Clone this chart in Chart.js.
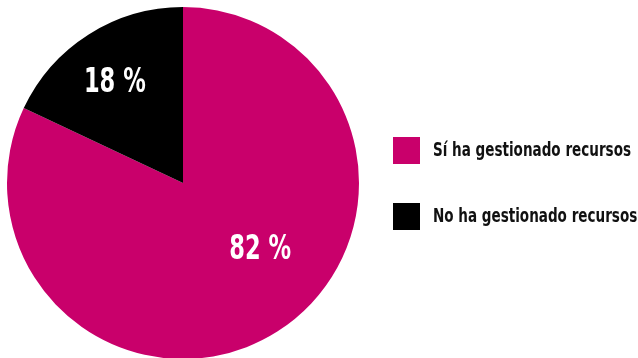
<!DOCTYPE html>
<html>
<head>
<meta charset="utf-8">
<script src="https://cdn.jsdelivr.net/npm/chart.js@4.4.1/dist/chart.umd.min.js"></script>
<style>
    html, body { margin: 0; padding: 0; background: #fff; }
    #wrap { width: 638px; height: 358px; overflow: hidden; position: relative; }
    #pieChart { display: block; }
</style>
</head>
<body>
<div id="wrap">
    <canvas id="pieChart" width="638" height="366"></canvas>
</div>
<script>
// Data
const categories = ['Sí ha gestionado recursos', 'No ha gestionado recursos'];
const values = [82, 18];
const valueLabels = ['82 %', '18 %'];

// Styles
const sliceColors = ['#C9006B', '#000000'];
const labelOffsets = [[30, -7], [-21, -25]];
const fontFamily = '"Liberation Sans Narrow", "DejaVu Sans Condensed", "Arial Narrow", sans-serif';

// Draw text squeezed horizontally (no narrow font available)
const condensedText = (ctx, text, x, y, sx) => {
    ctx.save();
    ctx.translate(x, y);
    ctx.scale(sx, 1);
    ctx.fillText(text, 0, 0);
    ctx.restore();
}

// Plugin: value labels inside the slices
const sliceLabels = {
    id: 'sliceLabels',
    afterDatasetsDraw(chart) {
        const ctx = chart.ctx;
        const meta = chart.getDatasetMeta(0);
        ctx.save();
        ctx.fillStyle = '#ffffff';
        ctx.font = 'bold 33px ' + fontFamily;
        ctx.textAlign = 'center';
        ctx.textBaseline = 'middle';
        meta.data.forEach((arc, i) => {
            const p = arc.tooltipPosition();
            condensedText(ctx, valueLabels[i], p.x + labelOffsets[i][0], p.y + labelOffsets[i][1], 0.76);
        });
        ctx.restore();
    }
};

// Plugin: legend on the right
const sideLegend = {
    id: 'sideLegend',
    afterDraw(chart) {
        const ctx = chart.ctx;
        const box = 27;
        const x0 = chart.chartArea.right + 34;
        const y0 = 137;
        const gap = 66;
        ctx.save();
        ctx.font = 'bold 19px ' + fontFamily;
        ctx.textBaseline = 'middle';
        ctx.textAlign = 'left';
        // squeeze so the first label is ~198px wide, like the reference
        const sx = 198 / ctx.measureText(chart.data.labels[0]).width;
        chart.data.labels.forEach((label, i) => {
            const y = y0 + i * gap;
            ctx.fillStyle = sliceColors[i];
            ctx.fillRect(x0, y, box, box);
            ctx.fillStyle = '#111111';
            condensedText(ctx, label, x0 + box + 13, y + box / 2 + 1, sx);
        });
        ctx.restore();
    }
};

// Create the chart
const ctx = document.getElementById('pieChart').getContext('2d');
const pieChart = new Chart(ctx, {
    type: 'pie',
    data: {
        labels: categories,
        datasets: [{
            data: values,
            backgroundColor: sliceColors,
            borderWidth: 0
        }]
    },
    options: {
        responsive: false,
        animation: false,
        layout: {
            padding: { left: 7, top: 7, right: 279, bottom: 7 }
        },
        plugins: {
            legend: { display: false },
            tooltip: { enabled: false }
        }
    },
    plugins: [sliceLabels, sideLegend]
});
</script>
</body>
</html>
